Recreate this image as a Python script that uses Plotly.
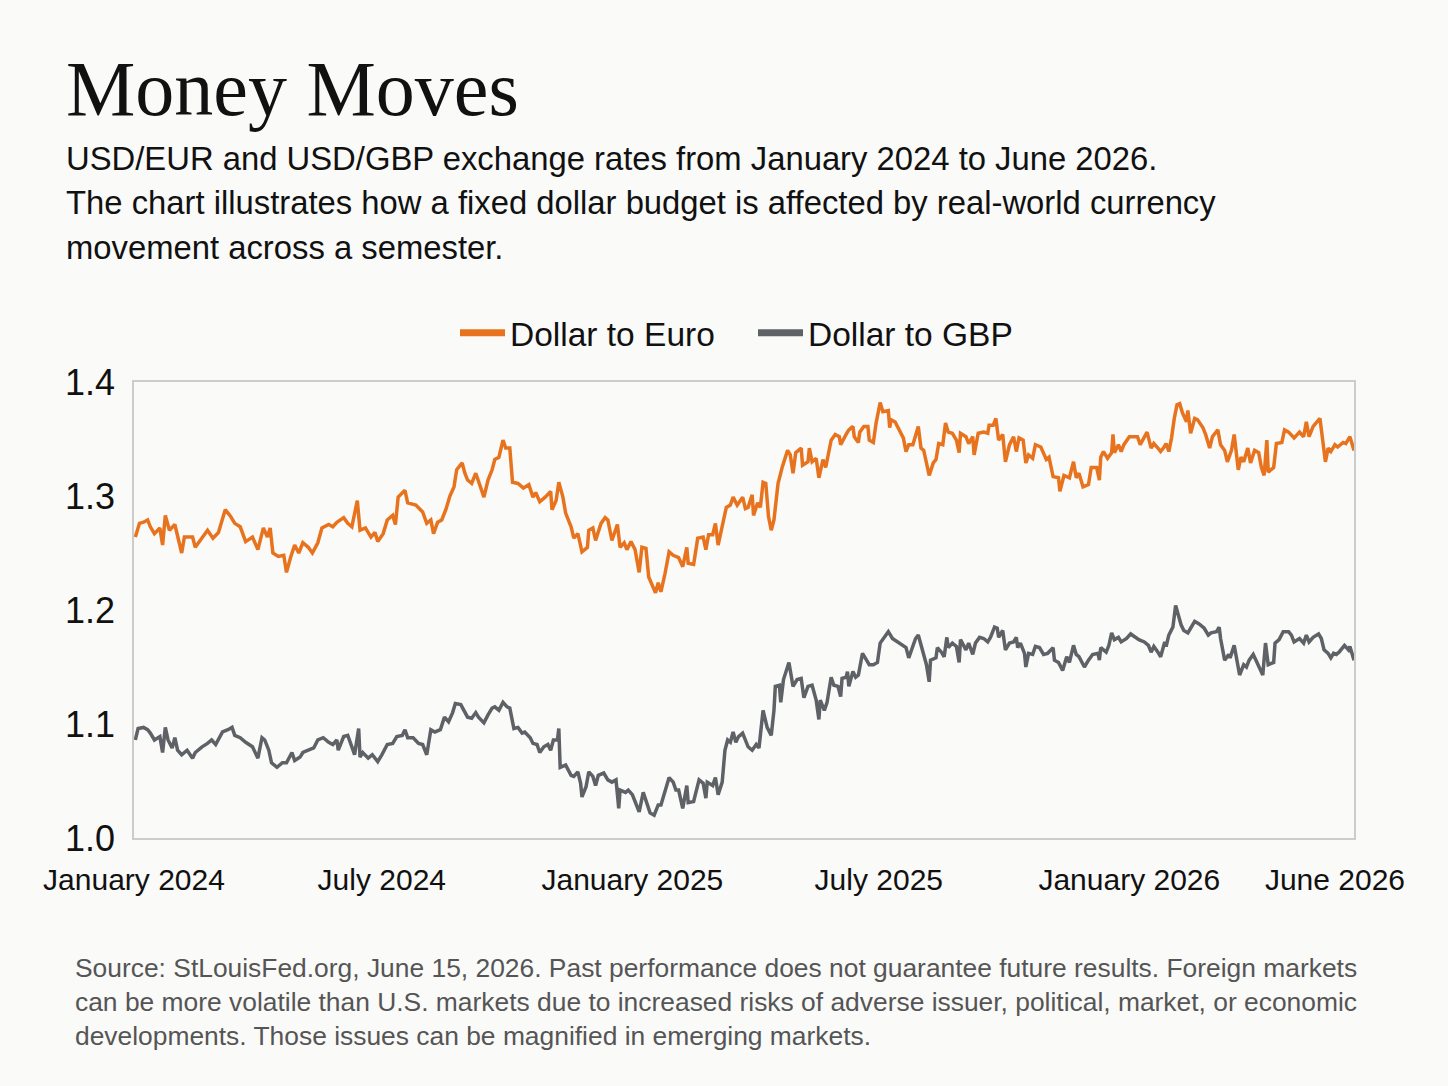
import pandas as pd
import plotly.graph_objects as go

# days since 2024-01-01
eur_day = [1, 4, 7, 10, 12, 15, 19, 21, 23, 26,
           30, 35, 37, 43, 45, 50, 54, 58, 62, 67,
           71, 74, 78, 82, 87, 91, 95, 98, 100, 102,
           106, 110, 112, 115, 118, 121, 124, 128, 131, 135,
           138, 143, 146, 149, 154, 157, 160, 164, 166, 170,
           174, 177, 179, 183, 186, 190, 192, 194, 199, 201,
           207, 212, 215, 218, 220, 223, 226, 229, 232, 235,
           237, 241, 243, 245, 248, 251, 254, 257, 260, 263,
           265, 268, 271, 273, 276, 278, 282, 286, 290, 293,
           295, 298, 302, 306, 307, 310, 312, 315, 317, 321,
           323, 326, 329, 333, 334, 337, 339, 343, 346, 348,
           351, 355, 357, 360, 362, 365, 368, 371, 373, 376,
           378, 381, 383, 385, 387, 390, 393, 396, 400, 403,
           406, 407, 411, 414, 418, 420, 422, 425, 427, 429,
           432, 435, 438, 440, 443, 447, 449, 451, 454, 455,
           458, 460, 462, 464, 466, 468, 470, 473, 476, 480,
           482, 484, 486, 490, 491, 495, 496, 498, 501, 503,
           506, 508, 512, 515, 518, 519, 523, 525, 528, 529,
           532, 533, 536, 539, 540, 543, 545, 548, 550, 554,
           555, 556, 559, 562, 565, 567, 569, 572, 576, 578,
           580, 584, 587, 589, 591, 594, 596, 598, 601, 604,
           606, 607, 611, 613, 616, 617, 620, 624, 627, 628,
           631, 633, 635, 638, 640, 643, 646, 648, 650, 653,
           655, 657, 660, 662, 666, 670, 672, 675, 679, 680,
           683, 687, 690, 692, 694, 697, 701, 703, 707, 709,
           710, 712, 715, 718, 719, 720, 723, 725, 727, 731,
           734, 737, 739, 742, 744, 747, 749, 752, 754, 756,
           758, 760, 762, 764, 766, 768, 770, 773, 774, 776,
           779, 781, 785, 787, 790, 792, 796, 798, 801, 803,
           806, 808, 811, 813, 815, 818, 820, 823, 826, 828,
           830, 832, 833, 837, 839, 843, 845, 848, 852, 856,
           859, 861, 863, 866, 868, 871, 873, 875, 877, 879,
           882, 884, 888, 890, 893, 896]
eur_rate = [1.264, 1.276, 1.277, 1.279, 1.273, 1.267, 1.272, 1.257, 1.283, 1.270,
            1.275, 1.250, 1.264, 1.264, 1.255, 1.264, 1.270, 1.263, 1.268, 1.288,
            1.282, 1.276, 1.273, 1.260, 1.264, 1.253, 1.272, 1.264, 1.272, 1.250,
            1.247, 1.248, 1.233, 1.246, 1.257, 1.250, 1.259, 1.255, 1.250, 1.259,
            1.272, 1.275, 1.273, 1.277, 1.281, 1.276, 1.273, 1.296, 1.270, 1.272,
            1.264, 1.268, 1.260, 1.267, 1.279, 1.283, 1.275, 1.299, 1.305, 1.294,
            1.292, 1.286, 1.276, 1.279, 1.267, 1.277, 1.279, 1.288, 1.300, 1.308,
            1.323, 1.329, 1.320, 1.314, 1.311, 1.320, 1.310, 1.299, 1.314, 1.323,
            1.332, 1.334, 1.349, 1.342, 1.342, 1.312, 1.311, 1.307, 1.310, 1.299,
            1.303, 1.295, 1.299, 1.304, 1.288, 1.296, 1.312, 1.299, 1.285, 1.273,
            1.263, 1.267, 1.251, 1.255, 1.270, 1.272, 1.261, 1.276, 1.281, 1.279,
            1.261, 1.275, 1.255, 1.259, 1.253, 1.260, 1.253, 1.233, 1.255, 1.254,
            1.229, 1.220, 1.215, 1.224, 1.216, 1.232, 1.251, 1.248, 1.246, 1.238,
            1.255, 1.241, 1.240, 1.263, 1.264, 1.253, 1.266, 1.266, 1.276, 1.257,
            1.273, 1.290, 1.292, 1.299, 1.292, 1.299, 1.289, 1.290, 1.301, 1.283,
            1.294, 1.290, 1.312, 1.311, 1.282, 1.270, 1.279, 1.311, 1.325, 1.340,
            1.336, 1.320, 1.338, 1.342, 1.327, 1.330, 1.342, 1.330, 1.333, 1.316,
            1.332, 1.325, 1.349, 1.354, 1.352, 1.345, 1.354, 1.358, 1.361, 1.352,
            1.347, 1.356, 1.361, 1.361, 1.349, 1.347, 1.364, 1.382, 1.374, 1.375,
            1.360, 1.367, 1.365, 1.358, 1.351, 1.339, 1.345, 1.345, 1.361, 1.342,
            1.340, 1.318, 1.329, 1.332, 1.346, 1.345, 1.364, 1.356, 1.355, 1.349,
            1.338, 1.355, 1.352, 1.346, 1.352, 1.336, 1.355, 1.356, 1.355, 1.362,
            1.362, 1.368, 1.349, 1.354, 1.330, 1.345, 1.352, 1.339, 1.351, 1.349,
            1.329, 1.336, 1.333, 1.345, 1.343, 1.332, 1.334, 1.317, 1.316, 1.304,
            1.318, 1.316, 1.330, 1.316, 1.320, 1.308, 1.310, 1.325, 1.325, 1.314,
            1.334, 1.339, 1.333, 1.338, 1.354, 1.338, 1.345, 1.339, 1.345, 1.352,
            1.352, 1.352, 1.345, 1.351, 1.356, 1.342, 1.346, 1.342, 1.339, 1.342,
            1.346, 1.339, 1.351, 1.368, 1.380, 1.381, 1.373, 1.365, 1.375, 1.355,
            1.368, 1.367, 1.360, 1.354, 1.342, 1.352, 1.358, 1.345, 1.340, 1.330,
            1.340, 1.354, 1.323, 1.334, 1.330, 1.342, 1.329, 1.340, 1.338, 1.325,
            1.318, 1.349, 1.321, 1.325, 1.346, 1.347, 1.358, 1.356, 1.351, 1.356,
            1.352, 1.365, 1.352, 1.361, 1.364, 1.368, 1.349, 1.330, 1.342, 1.339,
            1.345, 1.343, 1.347, 1.346, 1.352, 1.340]

gbp_day = [1, 3, 7, 10, 12, 15, 19, 21, 23, 25,
           28, 30, 32, 35, 39, 43, 45, 50, 54, 57,
           60, 62, 65, 69, 72, 74, 78, 82, 84, 87,
           91, 94, 96, 99, 101, 105, 109, 112, 116, 118,
           122, 124, 128, 132, 135, 139, 143, 146, 149, 150,
           154, 157, 160, 162, 165, 166, 168, 172, 175, 179,
           182, 186, 190, 193, 197, 199, 201, 205, 209, 212,
           215, 218, 221, 225, 228, 231, 234, 236, 240, 242,
           245, 248, 251, 253, 257, 260, 263, 265, 268, 271,
           274, 276, 279, 282, 285, 287, 291, 293, 296, 298,
           301, 304, 306, 308, 311, 312, 313, 317, 321, 323,
           326, 328, 329, 332, 334, 337, 339, 341, 345, 348,
           351, 354, 356, 357, 361, 363, 366, 368, 371, 374,
           377, 379, 382, 385, 387, 390, 393, 396, 398, 400,
           403, 406, 407, 411, 415, 418, 420, 421, 425, 427,
           429, 432, 434, 436, 438, 440, 442, 444, 447, 451,
           454, 457, 459, 462, 465, 468, 470, 471, 474, 475,
           477, 481, 484, 487, 490, 492, 495, 498, 501, 503,
           504, 507, 509, 512, 514, 517, 519, 520, 523, 524,
           525, 528, 530, 532, 535, 537, 540, 543, 546, 548,
           551, 554, 557, 561, 565, 567, 569, 572, 574, 576,
           579, 582, 584, 585, 589, 590, 593, 595, 597, 598,
           601, 604, 606, 607, 611, 613, 616, 618, 621, 624,
           627, 629, 632, 634, 635, 638, 640, 643, 646, 648,
           649, 651, 654, 655, 657, 660, 662, 665, 668, 671,
           675, 676, 679, 682, 685, 687, 690, 692, 694, 698,
           701, 704, 708, 709, 710, 714, 716, 718, 720, 723,
           725, 729, 732, 736, 738, 742, 745, 747, 749, 752,
           754, 757, 758, 760, 763, 765, 767, 769, 771, 774,
           776, 779, 782, 786, 789, 791, 795, 797, 798, 801,
           804, 805, 808, 810, 812, 815, 817, 819, 822, 824,
           826, 829, 831, 833, 837, 838, 841, 844, 848, 850,
           852, 856, 859, 861, 863, 866, 870, 872, 874, 877,
           879, 881, 883, 885, 889, 892, 893, 896]
gbp_rate = [1.086, 1.096, 1.097, 1.095, 1.092, 1.086, 1.089, 1.075, 1.097, 1.086,
            1.079, 1.088, 1.077, 1.073, 1.077, 1.070, 1.075, 1.080, 1.083, 1.086,
            1.082, 1.086, 1.093, 1.095, 1.097, 1.090, 1.088, 1.084, 1.082, 1.080,
            1.070, 1.088, 1.086, 1.077, 1.066, 1.062, 1.066, 1.066, 1.075, 1.068,
            1.071, 1.075, 1.077, 1.079, 1.086, 1.088, 1.084, 1.082, 1.086, 1.077,
            1.089, 1.090, 1.080, 1.073, 1.096, 1.071, 1.075, 1.070, 1.073, 1.067,
            1.073, 1.082, 1.083, 1.089, 1.090, 1.095, 1.088, 1.088, 1.083, 1.082,
            1.073, 1.095, 1.093, 1.095, 1.106, 1.102, 1.110, 1.118, 1.117, 1.112,
            1.106, 1.105, 1.110, 1.106, 1.101, 1.108, 1.114, 1.115, 1.112, 1.119,
            1.115, 1.114, 1.096, 1.097, 1.092, 1.093, 1.088, 1.083, 1.082, 1.075,
            1.080, 1.082, 1.077, 1.086, 1.086, 1.096, 1.062, 1.064, 1.055, 1.054,
            1.058, 1.048, 1.036, 1.045, 1.058, 1.054, 1.046, 1.055, 1.057, 1.051,
            1.049, 1.051, 1.026, 1.042, 1.040, 1.042, 1.038, 1.032, 1.023, 1.040,
            1.029, 1.022, 1.020, 1.029, 1.029, 1.042, 1.053, 1.049, 1.042, 1.042,
            1.026, 1.046, 1.031, 1.032, 1.051, 1.048, 1.035, 1.049, 1.046, 1.053,
            1.038, 1.049, 1.077, 1.086, 1.084, 1.093, 1.084, 1.089, 1.092, 1.080,
            1.077, 1.082, 1.079, 1.112, 1.097, 1.090, 1.112, 1.133, 1.134, 1.119,
            1.139, 1.154, 1.133, 1.139, 1.140, 1.123, 1.133, 1.134, 1.121, 1.104,
            1.121, 1.112, 1.119, 1.141, 1.134, 1.133, 1.124, 1.140, 1.141, 1.146,
            1.133, 1.146, 1.141, 1.143, 1.162, 1.158, 1.152, 1.152, 1.154, 1.171,
            1.176, 1.181, 1.175, 1.172, 1.169, 1.167, 1.158, 1.168, 1.175, 1.178,
            1.165, 1.152, 1.137, 1.156, 1.158, 1.167, 1.163, 1.159, 1.176, 1.167,
            1.171, 1.168, 1.154, 1.174, 1.165, 1.171, 1.161, 1.171, 1.176, 1.175,
            1.172, 1.176, 1.185, 1.184, 1.176, 1.182, 1.165, 1.171, 1.172, 1.176,
            1.167, 1.171, 1.162, 1.150, 1.162, 1.161, 1.168, 1.167, 1.161, 1.162,
            1.167, 1.156, 1.154, 1.147, 1.159, 1.154, 1.169, 1.161, 1.159, 1.150,
            1.156, 1.161, 1.162, 1.156, 1.167, 1.163, 1.169, 1.180, 1.174, 1.176,
            1.172, 1.175, 1.179, 1.176, 1.174, 1.172, 1.169, 1.163, 1.168, 1.163,
            1.159, 1.172, 1.168, 1.178, 1.185, 1.204, 1.194, 1.187, 1.182, 1.180,
            1.184, 1.190, 1.188, 1.184, 1.178, 1.180, 1.181, 1.185, 1.175, 1.156,
            1.161, 1.158, 1.169, 1.154, 1.143, 1.152, 1.150, 1.156, 1.161, 1.156,
            1.150, 1.143, 1.171, 1.152, 1.154, 1.171, 1.174, 1.181, 1.181, 1.178,
            1.172, 1.175, 1.171, 1.178, 1.172, 1.176, 1.179, 1.175, 1.165, 1.162,
            1.158, 1.162, 1.161, 1.163, 1.169, 1.165, 1.168, 1.156]

tick_dates = ["2024-01-01", "2024-07-01", "2025-01-01", "2025-07-01", "2026-01-01", "2026-06-01"]
tick_text = ["January 2024", "July 2024", "January 2025", "July 2025", "January 2026", "June 2026"]
y_ticks = [1.0, 1.1, 1.2, 1.3, 1.4]

title = "Money Moves"
subtitle_lines = ["USD/EUR and USD/GBP exchange rates from January 2024 to June 2026.",
                  "The chart illustrates how a fixed dollar budget is affected by real-world currency",
                  "movement across a semester."]
source_lines = ["Source: StLouisFed.org, June 15, 2026. Past performance does not guarantee future results. Foreign markets",
                "can be more volatile than U.S. markets due to increased risks of adverse issuer, political, market, or economic",
                "developments. Those issues can be magnified in emerging markets."]

start = pd.Timestamp("2024-01-01")
eur_dates = start + pd.to_timedelta(eur_day, unit="D")
gbp_dates = start + pd.to_timedelta(gbp_day, unit="D")

ORANGE = "#e8731e"
GREY = "#5e6166"
SANS = "Liberation Sans, Arial, sans-serif"

# plot box in pixels
W, H = 1448, 1086
L, R, T, B = 134, 1354, 382, 838
def px(xp):
    return (xp - L) / (R - L)
def py(yp):
    return (B - yp) / (B - T)

fig = go.Figure()
fig.add_trace(go.Scatter(x=eur_dates, y=eur_rate, mode="lines", name="Dollar to Euro",
                         line=dict(color=ORANGE, width=3.5), showlegend=False))
fig.add_trace(go.Scatter(x=gbp_dates, y=gbp_rate, mode="lines", name="Dollar to GBP",
                         line=dict(color=GREY, width=3.5), showlegend=False))
# legend entries with thicker swatches
fig.add_trace(go.Scatter(x=[None], y=[None], mode="lines", name="Dollar to Euro",
                         line=dict(color=ORANGE, width=7)))
fig.add_trace(go.Scatter(x=[None], y=[None], mode="lines", name="Dollar to GBP",
                         line=dict(color=GREY, width=7)))

annotations = [dict(text=title, x=px(64), y=py(88), xref="paper", yref="paper",
                    xanchor="left", yanchor="middle", showarrow=False,
                    font=dict(family="Liberation Serif, Times New Roman, serif", size=78, color="#111111"))]
for i, line in enumerate(subtitle_lines):
    annotations.append(dict(text=line, x=px(64), y=py(158 + 44.5 * i), xref="paper", yref="paper",
                            xanchor="left", yanchor="middle", showarrow=False,
                            font=dict(family=SANS, size=32.8, color="#111111")))
for i, line in enumerate(source_lines):
    annotations.append(dict(text=line, x=px(73), y=py(968 + 34 * i), xref="paper", yref="paper",
                            xanchor="left", yanchor="middle", showarrow=False,
                            font=dict(family=SANS, size=26.4, color="#555555")))

fig.update_layout(
    width=W, height=H,
    margin=dict(l=L, r=W - R, t=T, b=H - B),
    paper_bgcolor="#fafaf9", plot_bgcolor="#fafaf9",
    font=dict(family=SANS, color="#111111"),
    legend=dict(orientation="h", x=px(455), y=py(333), xanchor="left", yanchor="middle",
                itemwidth=45, entrywidth=238,
                font=dict(size=33.5, color="#111111"), bgcolor="rgba(0,0,0,0)"),
    annotations=annotations,
)
fig.update_xaxes(range=["2024-01-01", "2026-06-15"], tickvals=tick_dates, ticktext=tick_text,
                 tickfont=dict(size=30, color="#111111"), showgrid=False, zeroline=False,
                 showline=True, mirror=True, linecolor="#cccccc", linewidth=1.5,
                 ticks="", ticklabelstandoff=14)
fig.update_yaxes(range=[1.0, 1.4], tickvals=y_ticks, tickformat=".1f",
                 tickfont=dict(size=36, color="#111111"), showgrid=False, zeroline=False,
                 showline=True, mirror=True, linecolor="#cccccc", linewidth=1.5,
                 ticks="", ticklabelstandoff=10)

fig.write_html("out.html", config={"displayModeBar": False})

# drop the browser's default page margin so the figure sits at 0,0
with open("out.html") as f:
    page = f.read()
page = page.replace("<body>", '<body style="margin:0">', 1)
with open("out.html", "w") as f:
    f.write(page)
